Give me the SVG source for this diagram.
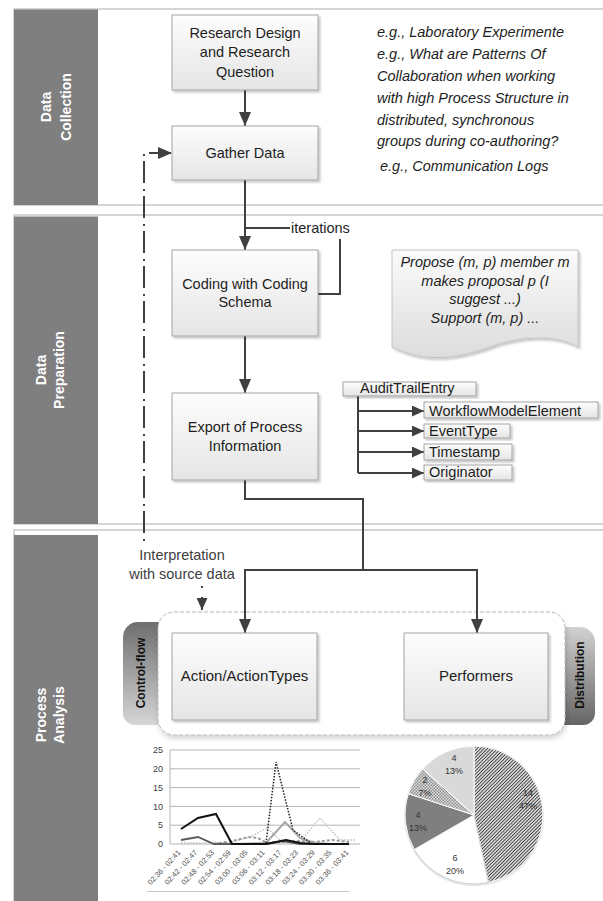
<svg xmlns="http://www.w3.org/2000/svg" width="603" height="901" viewBox="0 0 603 901">
<defs>
<style>
.lane{fill:#fff;stroke:#c8c8c8;stroke-width:1.5}
.bar{fill:#7f7f7f}
.lt{font-family:"Liberation Sans",Arial,sans-serif;font-weight:bold;font-size:14px;fill:#fff;text-anchor:middle}
.box{fill:url(#boxg);stroke:#a3a3a3;stroke-width:1;filter:url(#sh)}
.bt{font-family:"Liberation Sans",Arial,sans-serif;font-size:14.5px;fill:#1e1e1e;text-anchor:middle}
.it{font-family:"Liberation Sans",Arial,sans-serif;font-size:14.5px;font-style:italic;fill:#1e1e1e}
.at{font-family:"Liberation Sans",Arial,sans-serif;font-size:14.5px;fill:#1e1e1e}
.conn{fill:none;stroke:#404040;stroke-width:2}
.dd{stroke-dasharray:2,6,22,5}
.tabt{font-family:"Liberation Sans",Arial,sans-serif;font-weight:bold;font-size:12px;fill:#111;text-anchor:middle}
.ax{font-family:"Liberation Sans",Arial,sans-serif;font-size:9px;fill:#404040}
.xl{font-family:"Liberation Sans",Arial,sans-serif;font-size:7.5px;fill:#505050;text-anchor:end}
.grid{stroke:#b4b4b4;stroke-width:1}
.pl{font-family:"Liberation Sans",Arial,sans-serif;font-size:9px;fill:#333;text-anchor:middle}
</style>
<linearGradient id="boxg" x1="0" y1="0" x2="0" y2="1"><stop offset="0" stop-color="#fdfdfd"/><stop offset="1" stop-color="#e5e5e5"/></linearGradient>
<linearGradient id="docg" x1="0" y1="0" x2="0" y2="1"><stop offset="0" stop-color="#fbfbfb"/><stop offset="1" stop-color="#dcdcdc"/></linearGradient>
<linearGradient id="tabL" x1="0" y1="0" x2="0" y2="1"><stop offset="0" stop-color="#6e6e6e"/><stop offset="1" stop-color="#d6d6d6"/></linearGradient>
<linearGradient id="tabR" x1="0" y1="0" x2="0" y2="1"><stop offset="0" stop-color="#d2d2d2"/><stop offset="1" stop-color="#656565"/></linearGradient>
<filter id="sh" x="-10%" y="-10%" width="130%" height="130%"><feDropShadow dx="2" dy="2" stdDeviation="1.3" flood-color="#000" flood-opacity="0.22"/></filter>
<filter id="sh2" x="-10%" y="-10%" width="130%" height="130%"><feDropShadow dx="1" dy="3" stdDeviation="2.5" flood-color="#000" flood-opacity="0.18"/></filter>
<marker id="ah" markerUnits="userSpaceOnUse" markerWidth="14" markerHeight="12" refX="14" refY="6" orient="auto"><path d="M0,0 L14,6 L0,12 Z" fill="#404040"/></marker>
<marker id="ahs" markerUnits="userSpaceOnUse" markerWidth="12" markerHeight="11" refX="12" refY="5.5" orient="auto"><path d="M0,0 L12,5.5 L0,11 Z" fill="#404040"/></marker>
<pattern id="hatch" width="2.4" height="2.4" patternUnits="userSpaceOnUse" patternTransform="rotate(45)"><rect width="2.4" height="2.4" fill="#d6d6d6"/><rect width="0.8" height="2.4" fill="#3a3a3a"/></pattern>
<pattern id="check" width="3" height="3" patternUnits="userSpaceOnUse"><rect width="3" height="3" fill="#e2e2e2"/><rect width="1.5" height="1.5" fill="#8a8a8a"/><rect x="1.5" y="1.5" width="1.5" height="1.5" fill="#8a8a8a"/></pattern>
</defs>

<g id="lanes">
<g id="lane-collection">
<rect class="lane" x="14" y="9" width="600" height="196"/>
<rect class="bar" x="14" y="9.5" width="84" height="195.5"/>
<text class="lt" transform="translate(56,107) rotate(-90)"><tspan x="0" y="-5">Data</tspan><tspan x="0" y="15">Collection</tspan></text>
</g>
<g id="lane-preparation">
<rect class="lane" x="14" y="215" width="600" height="309"/>
<rect class="bar" x="14" y="216.5" width="84" height="307.5"/>
<text class="lt" transform="translate(56,370) rotate(-90)"><tspan x="0" y="-10">Data</tspan><tspan x="0" y="7.5">Preparation</tspan></text>
</g>
<g id="lane-analysis">
<rect class="lane" x="14" y="530" width="600" height="380"/>
<rect class="bar" x="14" y="535" width="84" height="366"/>
<text class="lt" transform="translate(56,715) rotate(-90)"><tspan x="0" y="-10">Process</tspan><tspan x="0" y="8">Analysis</tspan></text>
</g>
</g>

<g id="notes">
<text class="it" x="377" y="37">e.g., Laboratory Experimente</text>
<text class="it" x="377" y="59">e.g., What are Patterns Of</text>
<text class="it" x="377" y="81">Collaboration when working</text>
<text class="it" x="377" y="102.5">with high Process Structure in</text>
<text class="it" x="377" y="124.5">distributed, synchronous</text>
<text class="it" x="377" y="146">groups during co-authoring?</text>
<text class="it" x="380" y="171">e.g., Communication Logs</text>
</g>

<g id="container">
<path d="M160,622 H138 A15,15 0 0 0 123,637 V713 A12,12 0 0 0 135,725 H160 Z" fill="url(#tabL)"/>
<text class="tabt" transform="translate(141,673) rotate(-90)" y="4">Control-flow</text>
<path d="M560,627 H580 A15,15 0 0 1 595,642 V713 A12,12 0 0 1 583,725 H560 Z" fill="url(#tabR)"/>
<text class="tabt" transform="translate(580,675) rotate(-90)" y="4">Distribution</text>
<rect x="158" y="612" width="407" height="123" rx="16" fill="#fff" stroke="#b8b8b8" stroke-width="1" stroke-dasharray="4,2" filter="url(#sh2)"/>
</g>

<g id="connectors">
<path class="conn" d="M245,90 V126" marker-end="url(#ah)"/>
<path class="conn" d="M245,180 V250" marker-end="url(#ah)"/>
<path class="conn" d="M290,228 H245"/>
<path class="conn" d="M318,294 H340 V239"/>
<path class="conn" d="M245,336 V393" marker-end="url(#ah)"/>
<path class="conn" d="M245,480 V499 H363 V570 H245 V633" marker-end="url(#ah)"/>
<path class="conn" d="M363,570 H477 V633" marker-end="url(#ah)"/>
<path class="conn dd" d="M144,541 V153 H172" marker-end="url(#ah)"/>
<path class="conn" d="M202,586 V610" stroke-dasharray="2,9,30" marker-end="url(#ahs)"/>
<path class="conn" d="M358,396 V473"/>
<path class="conn" d="M358,411 H424" marker-end="url(#ahs)"/>
<path class="conn" d="M358,431 H424" marker-end="url(#ahs)"/>
<path class="conn" d="M358,452 H424" marker-end="url(#ahs)"/>
<path class="conn" d="M358,473 H424" marker-end="url(#ahs)"/>
<text class="at" x="291" y="233">iterations</text>
<text class="bt" style="fill:#404040" x="182" y="560">Interpretation</text>
<text class="bt" style="fill:#404040" x="182" y="579">with source data</text>
</g>

<g id="n-research">
<rect class="box" x="172" y="15" width="146" height="75"/>
<text class="bt" x="245" y="37.5">Research Design</text>
<text class="bt" x="245" y="57">and Research</text>
<text class="bt" x="245" y="76.5">Question</text>
</g>
<g id="n-gather">
<rect class="box" x="172" y="126" width="146" height="54"/>
<text class="bt" x="245" y="158">Gather Data</text>
</g>
<g id="n-coding">
<rect class="box" x="172" y="250" width="146" height="86"/>
<text class="bt" x="245" y="289">Coding with Coding</text>
<text class="bt" x="245" y="307">Schema</text>
</g>
<g id="n-export">
<rect class="box" x="172" y="393" width="146" height="87"/>
<text class="bt" x="245" y="432">Export of Process</text>
<text class="bt" x="245" y="451">Information</text>
</g>
<g id="n-doc">
<path d="M392,250 H578 V347 C555,334 520,336 490,347 C460,358 425,364 392,347 Z" fill="url(#docg)" stroke="#c2c2c2" stroke-width="1" filter="url(#sh)"/>
<text class="it" text-anchor="middle" x="485" y="267">Propose (m, p) member m</text>
<text class="it" text-anchor="middle" x="485" y="285.5">makes proposal p (I</text>
<text class="it" text-anchor="middle" x="485" y="304">suggest ...)</text>
<text class="it" text-anchor="middle" x="485" y="322.5">Support (m, p) ...</text>
</g>
<g id="n-audit">
<rect class="box" x="343" y="382" width="133" height="14"/>
<text class="at" x="360" y="393">AuditTrailEntry</text>
</g>
<g id="n-wfme">
<rect class="box" x="424" y="402" width="174" height="16"/>
<text class="at" x="429" y="416">WorkflowModelElement</text>
</g>
<g id="n-eventtype">
<rect class="box" x="424" y="424" width="86" height="14"/>
<text class="at" x="429" y="436">EventType</text>
</g>
<g id="n-timestamp">
<rect class="box" x="424" y="444" width="88" height="16"/>
<text class="at" x="429" y="456.5">Timestamp</text>
</g>
<g id="n-originator">
<rect class="box" x="424" y="465" width="88" height="15"/>
<text class="at" x="429" y="476.5">Originator</text>
</g>
<g id="n-action">
<rect class="box" x="172" y="633" width="145" height="87"/>
<text class="bt" style="font-size:15px" x="244.5" y="681">Action/ActionTypes</text>
</g>
<g id="n-performers">
<rect class="box" x="404" y="633" width="144" height="87"/>
<text class="bt" style="font-size:15px" x="476" y="681">Performers</text>
</g>

<g id="linechart">
<line class="grid" x1="170" y1="750" x2="360" y2="750"/>
<line class="grid" x1="170" y1="768.8" x2="360" y2="768.8"/>
<line class="grid" x1="170" y1="787.6" x2="360" y2="787.6"/>
<line class="grid" x1="170" y1="806.4" x2="360" y2="806.4"/>
<line class="grid" x1="170" y1="825.2" x2="360" y2="825.2"/>
<line class="grid" x1="170" y1="844" x2="360" y2="844"/>
<line class="grid" x1="170" y1="750" x2="170" y2="844"/>
<line x1="147" y1="891.5" x2="350" y2="891.5" stroke="#c8c8c8" stroke-width="1"/>
<text class="ax" text-anchor="end" x="163" y="753">25</text>
<text class="ax" text-anchor="end" x="163" y="771.5">20</text>
<text class="ax" text-anchor="end" x="163" y="790.5">15</text>
<text class="ax" text-anchor="end" x="163" y="809.5">10</text>
<text class="ax" text-anchor="end" x="163" y="828">5</text>
<text class="ax" text-anchor="end" x="163" y="847">0</text>
<g>
<text class="xl" transform="translate(181,853) rotate(-47)">02:36 - 02:41</text>
<text class="xl" transform="translate(197.8,853) rotate(-47)">02:42 - 02:47</text>
<text class="xl" transform="translate(214.6,853) rotate(-47)">02:48 - 02:53</text>
<text class="xl" transform="translate(231.4,853) rotate(-47)">02:54 - 02:59</text>
<text class="xl" transform="translate(248.2,853) rotate(-47)">03:00 - 03:05</text>
<text class="xl" transform="translate(265,853) rotate(-47)">03:06 - 03:11</text>
<text class="xl" transform="translate(281.8,853) rotate(-47)">03:12 - 03:17</text>
<text class="xl" transform="translate(298.6,853) rotate(-47)">03:18 - 03:23</text>
<text class="xl" transform="translate(315.4,853) rotate(-47)">03:24 - 03:29</text>
<text class="xl" transform="translate(332.2,853) rotate(-47)">03:30 - 03:35</text>
<text class="xl" transform="translate(349,853) rotate(-47)">03:36 - 03:41</text>
</g>
<polyline fill="none" stroke="#bdbdbd" stroke-width="1.3" stroke-dasharray="1.5,1.5" points="181,843 198,843 232,842 250,837 267,828 280,840 300,842 320,818 340,840 356,840"/>
<polyline fill="none" stroke="#9a9a9a" stroke-width="2" stroke-dasharray="3,2" points="214,844 232,841 249,837 258,838 267,843 283,842 300,841 315,842 332,840 349,842"/>
<polyline fill="none" stroke="#a8a8a8" stroke-width="2" points="232,844 266,843 285,822 300,838 315,843 332,844 349,844"/>
<polyline fill="none" stroke="#5a5a5a" stroke-width="1.8" points="181,840 198,837 214,844 232,844 266,844 283,841 300,844 349,844"/>
<polyline fill="none" stroke="#222" stroke-width="1.5" stroke-dasharray="1.5,1.5" points="266,843 276,762 293,830 312,844"/>
<polyline fill="none" stroke="#111" stroke-width="2" points="181,829 198,818 216,814 232,844 249,844 266,844 276,842 286,840 300,843 314,844 349,844"/>
</g>

<g id="piechart">
<circle cx="474" cy="816" r="70" fill="#ccc" opacity="0.5"/>
<path d="M474,815 L474,746 A69,69 0 0 1 488.35,882.49 Z" fill="url(#hatch)" stroke="#fff" stroke-width="1"/>
<path d="M474,815 L488.35,882.49 A69,69 0 0 1 414.24,849.5 Z" fill="#fff" stroke="#d0d0d0" stroke-width="1"/>
<path d="M474,815 L414.24,849.5 A69,69 0 0 1 408.38,793.68 Z" fill="#7f7f7f" stroke="#fff" stroke-width="1"/>
<path d="M474,815 L408.38,793.68 A69,69 0 0 1 422.72,768.83 Z" fill="url(#check)" stroke="#fff" stroke-width="1"/>
<path d="M474,815 L422.72,768.83 A69,69 0 0 1 474,746 Z" fill="#d9d9d9" stroke="#fff" stroke-width="1"/>
<text class="pl" x="528" y="796">14</text>
<text class="pl" x="528" y="808.5">47%</text>
<text class="pl" x="455" y="861">6</text>
<text class="pl" x="455" y="874">20%</text>
<text class="pl" x="418" y="818">4</text>
<text class="pl" x="418" y="830.5">13%</text>
<text class="pl" x="425" y="783">2</text>
<text class="pl" x="425" y="795.5">7%</text>
<text class="pl" x="454" y="761">4</text>
<text class="pl" x="454" y="774">13%</text>
</g>
</svg>
